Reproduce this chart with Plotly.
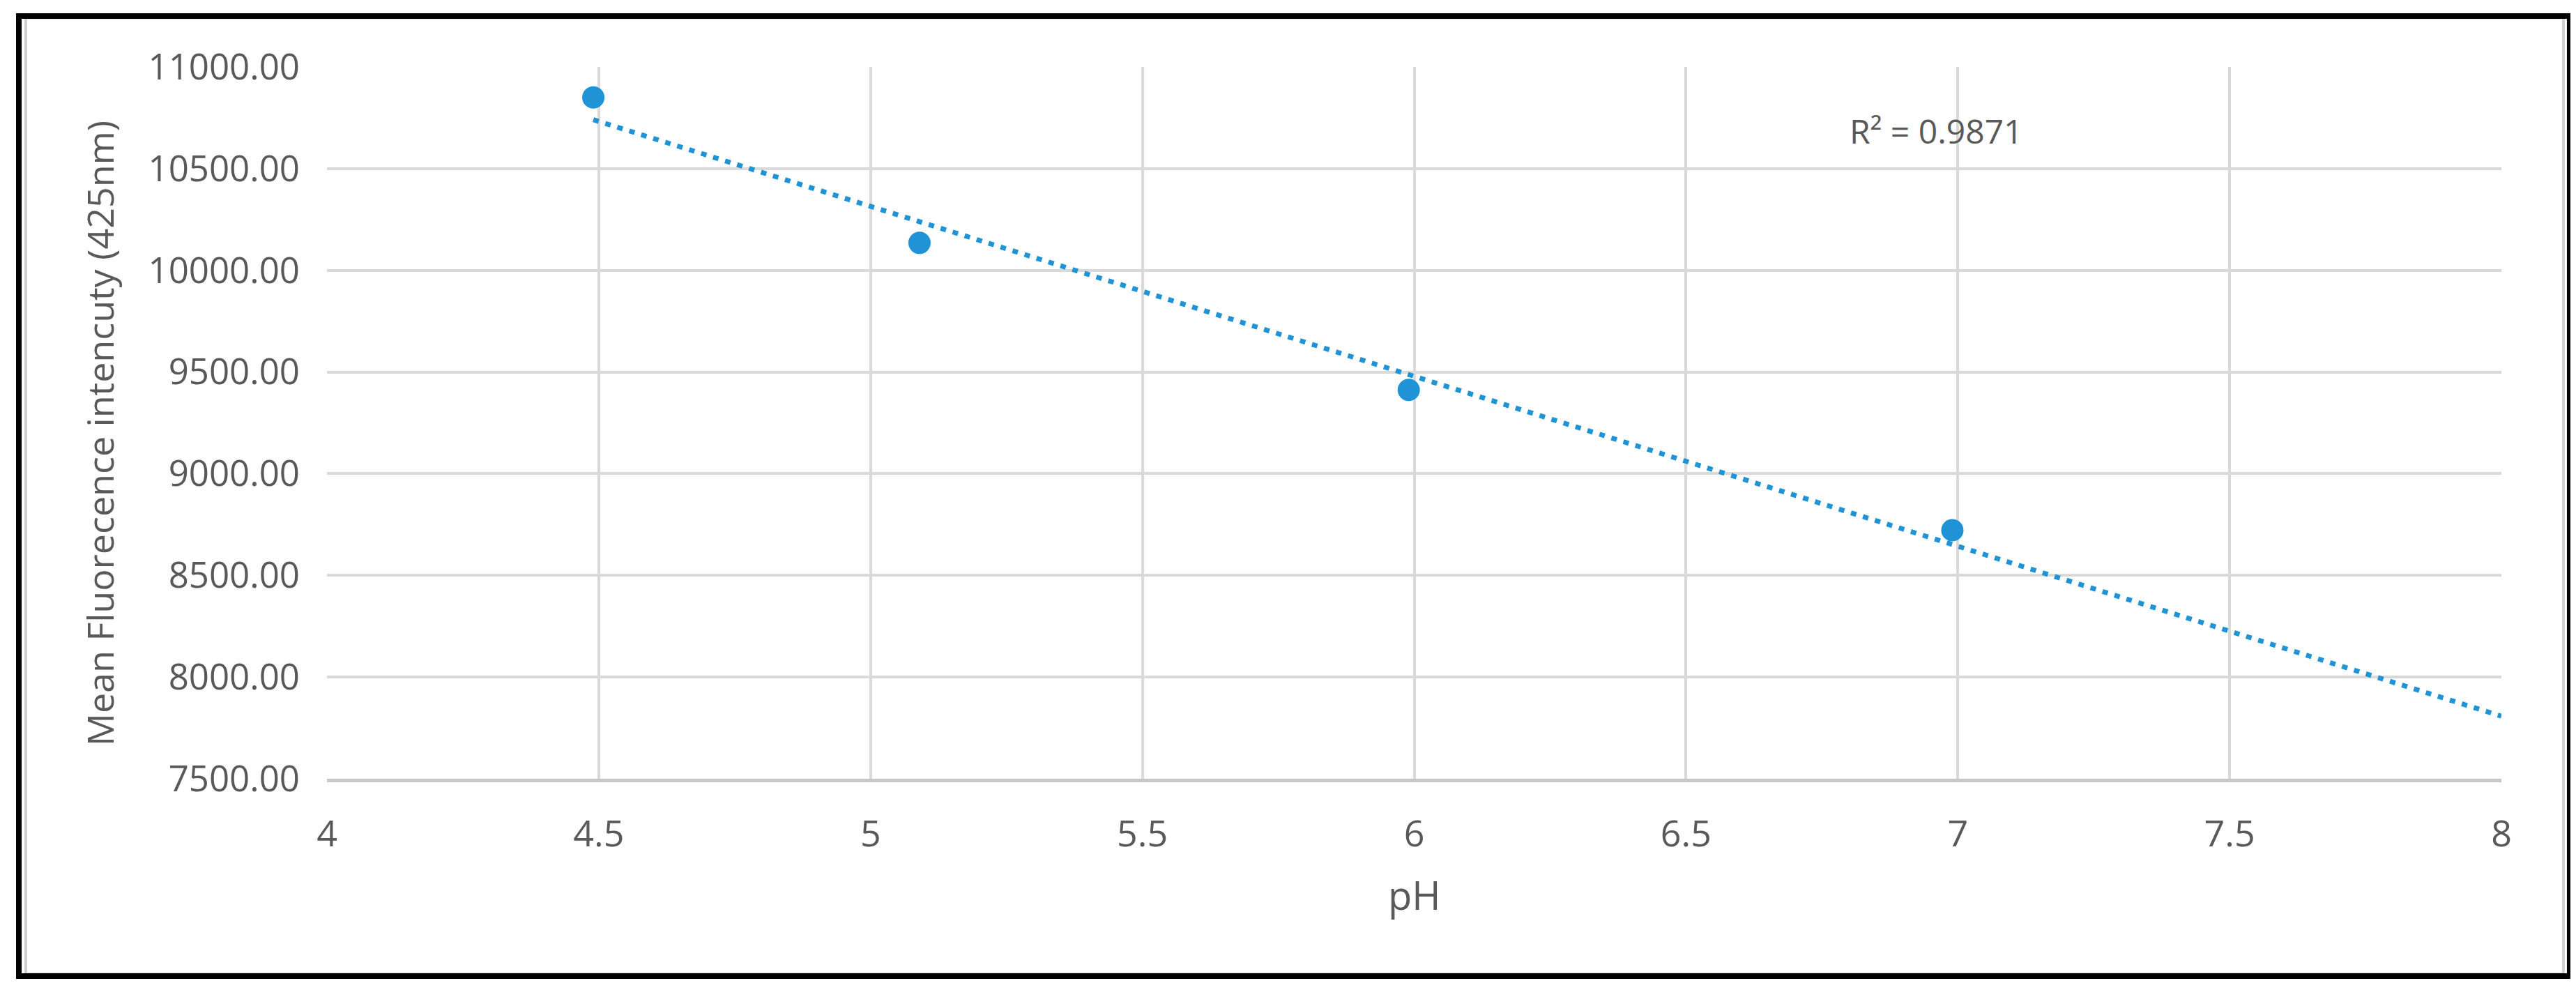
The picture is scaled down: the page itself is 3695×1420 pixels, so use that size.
import numpy as np
import plotly.graph_objects as go

# donnees
ph = [4.49, 5.09, 5.99, 6.99]
intensity = [10850, 10135, 9412, 8722]
r2_label = "R² = 0.9871"
x_title = "pH"
y_title = "Mean Fluorecence intencuty (425nm)"

blue = "#1F93D6"
grey_text = "#595959"
grid = "#D9D9D9"

# droite de tendance lineaire (comme Excel), prolongee jusqu'a pH 8
slope, intercept = np.polyfit(ph, intensity, 1)
trend_x = [ph[0], 8.0]
trend_y = [slope * v + intercept for v in trend_x]

fig = go.Figure()
fig.add_trace(go.Scatter(x=trend_x, y=trend_y, mode="lines",
                         line=dict(color=blue, width=7, dash="8px,10px"),
                         showlegend=False, hoverinfo="skip"))
fig.add_trace(go.Scatter(x=ph, y=intensity, mode="markers",
                         marker=dict(color=blue, size=32, line=dict(width=0)),
                         showlegend=False))

fig.update_layout(
    width=3695, height=1420,
    margin=dict(l=461, r=115, t=88, b=311, pad=0),
    paper_bgcolor="white", plot_bgcolor="white",
    font=dict(family="Open Sans", size=48, color=grey_text),
)
fig.update_xaxes(range=[4, 8], dtick=0.5, tick0=4,
                 showgrid=True, gridcolor=grid, gridwidth=4,
                 showline=True, linecolor="#C6C6C6", linewidth=5,
                 zeroline=False, ticks="", ticklabelstandoff=30,
                 tickfont=dict(size=52, color=grey_text))
fig.update_yaxes(range=[7500, 11000], dtick=500, tick0=7500, tickformat=".2f",
                 showgrid=True, gridcolor=grid, gridwidth=4,
                 zeroline=False, ticks="", ticklabelstandoff=38,
                 tickfont=dict(size=51, color=grey_text))

# titres des axes et R²
fig.add_annotation(text=y_title, xref="paper", yref="paper", x=-0.1045, y=0.485,
                   textangle=-90, showarrow=False, xanchor="center", yanchor="middle",
                   font=dict(size=52, color=grey_text))
fig.add_annotation(text=x_title, xref="paper", yref="paper", x=0.5, y=-0.1626,
                   showarrow=False, xanchor="center", yanchor="middle",
                   font=dict(size=56, color=grey_text))
fig.add_annotation(text=r2_label, x=6.96, y=10685, showarrow=False,
                   xanchor="center", yanchor="middle",
                   font=dict(size=48, color=grey_text))

# cadre noir autour de la figure
fig.add_shape(type="rect", xref="paper", yref="paper",
              x0=-0.1385, x1=1.0285, y0=-0.2745, y1=1.0690,
              line=dict(color="#D0D0D0", width=4), layer="below")
fig.add_shape(type="rect", xref="paper", yref="paper",
              x0=-0.1417, x1=1.0314, y0=-0.2771, y1=1.0715,
              line=dict(color="black", width=8))

fig.write_html("out.html")
